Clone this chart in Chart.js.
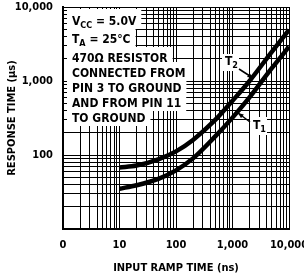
<!DOCTYPE html>
<html>
<head>
<meta charset="utf-8">
<script src="https://cdn.jsdelivr.net/npm/chart.js@4/dist/chart.umd.min.js"></script>
<style>
  html, body { margin: 0; padding: 0; background: #fff; }
</style>
</head>
<body>
<canvas id="rampChart" width="304" height="280"></canvas>
<script>
// values
const rampTimes = [10, 20, 50, 100, 200, 500, 1000, 2000, 5000, 10000];
const t2Times = [68, 72, 88, 112, 160, 300, 540, 1000, 2500, 4900];
const t1Times = [35, 39, 48, 62, 90, 180, 320, 600, 1500, 2900];

const xDecades = [1, 10, 100, 1000, 10000];
const xDecadeLabels = ['0', '10', '100', '1,000', '10,000'];
const yDecades = [10, 100, 1000, 10000];
const yDecadeLabels = ['', '100', '1,000', '10,000'];

const noteLines = [
  [['V', 0], ['CC', 1], [' = 5.0V', 0]],
  [['T', 0], ['A', 1], [' = 25°C', 0]],
  [['470Ω RESISTOR', 0]],
  [['CONNECTED FROM', 0]],
  [['PIN 3 TO GROUND', 0]],
  [['AND FROM PIN 11', 0]],
  [['TO GROUND', 0]]
];
const noteBaselines = [25, 43, 62, 77, 92, 107, 122];

const FAMILY = "'Liberation Sans Narrow', 'DejaVu Sans Condensed', 'Liberation Sans', sans-serif";

// 1..9 x each decade, so every grid line is a tick
function allTicks(decades) {
  let out = [];
  for (let i = 0; i < decades.length; i++) {
    if (i == decades.length - 1) { out.push(decades[i]); break; }
    for (let m = 1; m < 10; m++) out.push(m * decades[i]);
  }
  return out.map(v => ({ value: v }));
}

function pts(ys) {
  return rampTimes.map((x, i) => ({ x: x, y: ys[i] }));
}

function drawRich(ctx, segs, x, y, draw) {
  let w = 0;
  for (const [txt, sub] of segs) {
    ctx.font = sub ? 'bold 9px ' + FAMILY : 'bold 12px ' + FAMILY;
    if (draw) ctx.fillText(txt, x + w, sub ? y + 3 : y);
    w += ctx.measureText(txt).width;
  }
  return w;
}

function arrow(ctx, x1, y1, x2, y2) {
  ctx.beginPath();
  ctx.moveTo(x1, y1);
  ctx.lineTo(x2, y2);
  ctx.stroke();
  let ang = Math.atan2(y2 - y1, x2 - x1);
  ctx.beginPath();
  ctx.moveTo(x2, y2);
  ctx.lineTo(x2 - 6 * Math.cos(ang - 0.4), y2 - 6 * Math.sin(ang - 0.4));
  ctx.lineTo(x2 - 6 * Math.cos(ang + 0.4), y2 - 6 * Math.sin(ang + 0.4));
  ctx.closePath();
  ctx.fill();
}

const notesPlugin = {
  id: 'notes',
  beforeDatasetsDraw(chart) {
    const ctx = chart.ctx, a = chart.chartArea;
    const tx = a.left + 9;
    ctx.save();
    ctx.fillStyle = '#fff';
    noteLines.forEach((segs, i) => {
      let w = drawRich(ctx, segs, tx, noteBaselines[i], false);
      let top = i == 0 ? a.top + 2 : noteBaselines[i] - 15;
      ctx.fillRect(a.left + 4, top, tx + w + 5 - (a.left + 4), noteBaselines[i] + 4 - top);
    });
    ctx.fillStyle = '#000';
    ctx.textBaseline = 'alphabetic';
    noteLines.forEach((segs, i) => drawRich(ctx, segs, tx, noteBaselines[i], true));
    ctx.restore();
  },
  afterDatasetsDraw(chart) {
    const ctx = chart.ctx;
    ctx.save();
    ctx.fillStyle = '#fff';
    ctx.fillRect(222, 54, 17, 17);
    ctx.fillRect(250, 117, 17, 18);
    ctx.fillStyle = '#000';
    ctx.strokeStyle = '#000';
    ctx.lineWidth = 1.5;
    drawRich(ctx, [['T', 0], ['2', 1]], 225, 65, true);
    drawRich(ctx, [['T', 0], ['1', 1]], 253, 129, true);
    arrow(ctx, 239, 69, 253, 78);
    arrow(ctx, 250, 122, 238, 113);
    ctx.restore();
  }
};

const tickFont = { family: FAMILY, size: 11, weight: 'bold' };
const titleFont = { family: FAMILY, size: 11, weight: 'bold' };

let ctx = document.getElementById('rampChart').getContext('2d');
let rampChart = new Chart(ctx, {
  type: 'line',
  data: {
    datasets: [
      { label: 'T2', data: pts(t2Times), borderColor: '#000', borderWidth: 4.5, pointRadius: 0, cubicInterpolationMode: 'monotone' },
      { label: 'T1', data: pts(t1Times), borderColor: '#000', borderWidth: 4.5, pointRadius: 0, cubicInterpolationMode: 'monotone' }
    ]
  },
  options: {
    responsive: false,
    animation: false,
    layout: { padding: { top: 7, right: 15, left: 0, bottom: 0 } },
    plugins: { legend: { display: false }, tooltip: { enabled: false } },
    scales: {
      x: {
        type: 'logarithmic',
        min: 1,
        max: 10000,
        afterBuildTicks: s => { s.ticks = allTicks(xDecades); },
        afterFit: s => { s.height = 51; s.paddingLeft = 0; s.paddingRight = 0; },
        grid: { color: '#000', lineWidth: 1, drawTicks: false },
        border: { color: '#000', width: 2 },
        ticks: {
          autoSkip: false, maxRotation: 0, padding: 10, color: '#000', font: tickFont,
          callback: v => { let i = xDecades.indexOf(v); return i < 0 ? '' : xDecadeLabels[i]; }
        },
        title: { display: true, text: 'INPUT RAMP TIME (ns)', color: '#000', font: titleFont, padding: { top: 0, bottom: 5 } }
      },
      y: {
        type: 'logarithmic',
        min: 10,
        max: 10000,
        afterBuildTicks: s => { s.ticks = allTicks(yDecades); },
        afterFit: s => { s.width = 63; s.paddingTop = 0; s.paddingBottom = 0; },
        grid: { color: '#000', lineWidth: 1, drawTicks: false },
        border: { color: '#000', width: 2 },
        ticks: {
          autoSkip: false, padding: 10, color: '#000', font: tickFont,
          callback: v => { let i = yDecades.indexOf(v); return i < 0 ? '' : yDecadeLabels[i]; }
        },
        title: { display: true, text: 'RESPONSE TIME (µs)', color: '#000', font: titleFont, padding: { top: 6, bottom: 0 } }
      }
    }
  },
  plugins: [notesPlugin]
});
</script>
</body>
</html>
